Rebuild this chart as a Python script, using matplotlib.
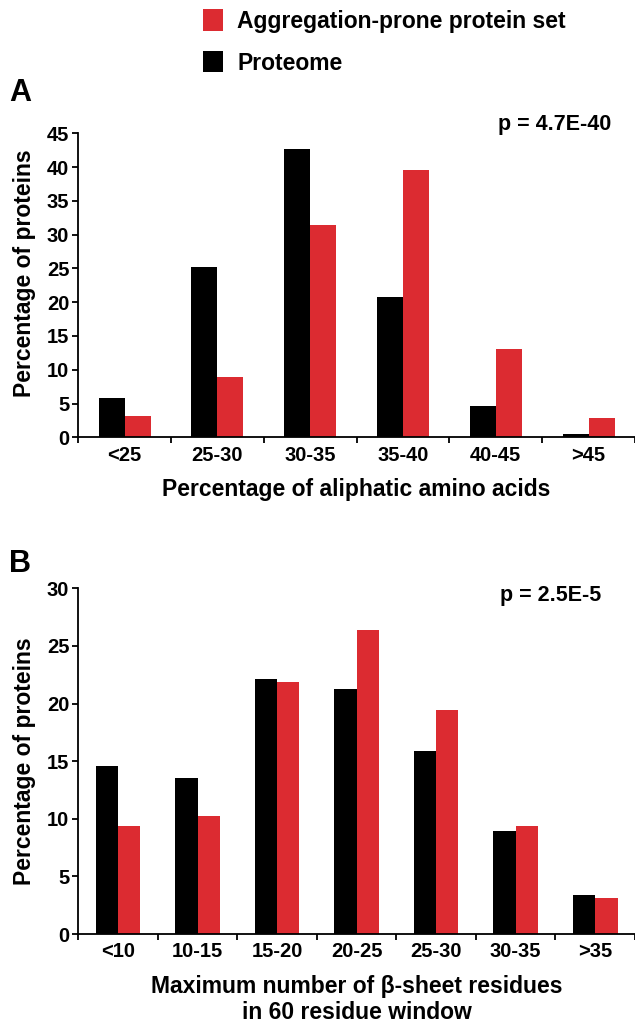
import numpy as np
import matplotlib
matplotlib.use("Agg")
import matplotlib.pyplot as plt
from matplotlib.patches import Patch

plt.rcParams['font.family'] = ['Liberation Sans', 'DejaVu Sans']
plt.rcParams['font.weight'] = 'bold'
plt.rcParams['axes.labelweight'] = 'bold'

RED = '#dc2b31'

# panel A - aliphatic amino acid content
aliphatic_bins = ['<25', '25-30', '30-35', '35-40', '40-45', '>45']
aliphatic_proteome = [5.8, 25.2, 42.7, 20.7, 4.6, 0.5]
aliphatic_aggr = [3.2, 9.0, 31.5, 39.6, 13.1, 2.9]

# panel B - beta sheet residues
beta_bins = ['<10', '10-15', '15-20', '20-25', '25-30', '30-35', '>35']
beta_proteome = [14.6, 13.5, 22.1, 21.3, 15.9, 8.9, 3.4]
beta_aggr = [9.4, 10.2, 21.9, 26.4, 19.4, 9.4, 3.15]

W, H = 635, 1029


def draw_panel(ax, bins, proteome, aggr, ymax, xlabel):
    x = np.arange(len(bins))
    w = 0.28
    ax.bar(x - w / 2, proteome, w, color='black', linewidth=0)
    ax.bar(x + w / 2, aggr, w, color=RED, linewidth=0)
    ax.set_xlim(-0.5, len(bins) - 0.5)
    ax.set_ylim(0, ymax)
    ax.set_yticks(range(0, ymax + 1, 5))
    ax.set_xticks(x, bins)
    ax.set_xticks(np.arange(len(bins) + 1) - 0.5, minor=True)
    ax.tick_params(axis='x', which='major', length=0, pad=6, labelsize=14.5)
    ax.tick_params(axis='x', which='minor', length=4.5, width=1.3, direction='out')
    ax.tick_params(axis='y', length=4.5, width=1.3, pad=2, labelsize=14.5)
    for s in ['top', 'right']:
        ax.spines[s].set_visible(False)
    for s in ['left', 'bottom']:
        ax.spines[s].set_linewidth(1.3)
    ax.set_ylabel('Percentage of proteins', fontsize=16.5)
    ax.set_xlabel(xlabel, fontsize=16.5, linespacing=1.15)


fig = plt.figure(figsize=(W / 100, H / 100), dpi=100)

left = 78.3 / W
axA = fig.add_axes([left, 1 - 437.3 / H, 1 - left, (437.3 - 133.3) / H])
axB = fig.add_axes([left, 1 - 934 / H, 1 - left, (934 - 588.3) / H])

draw_panel(axA, aliphatic_bins, aliphatic_proteome, aliphatic_aggr, 45,
           'Percentage of aliphatic amino acids')
draw_panel(axB, beta_bins, beta_proteome, beta_aggr, 30,
           'Maximum number of \u03b2-sheet residues\nin 60 residue window')

axA.yaxis.set_label_coords((36 - 78.3) / (W - 78.3), 0.54)
axB.yaxis.set_label_coords((36 - 78.3) / (W - 78.3), 0.5)
axA.xaxis.set_label_coords(0.5, (437.3 - 478) / 304)
axB.xaxis.set_label_coords(0.5, (934 - 975) / 345.7)

fig.text(9 / W, 1 - 101 / H, 'A', fontsize=22, fontweight='bold', va='baseline')
fig.text(9 / W, 1 - 572 / H, 'B', fontsize=22, fontweight='bold', va='baseline')
fig.text(611.7 / W, 1 - 130 / H, 'p = 4.7E-40', fontsize=15.5, fontweight='bold',
         ha='right', va='baseline')
fig.text(601 / W, 1 - 600.7 / H, 'p = 2.5E-5', fontsize=15.5, fontweight='bold',
         ha='right', va='baseline')

handles = [Patch(facecolor=RED, linewidth=0, label='Aggregation-prone protein set'),
           Patch(facecolor='black', linewidth=0, label='Proteome')]
fig.legend(handles=handles, loc='upper left', bbox_to_anchor=(202.7 / W, 1 - 9 / H),
           frameon=False, fontsize=16.5, handlelength=0.9, handleheight=1.07,
           handletextpad=0.6, labelspacing=0.8, borderpad=0, borderaxespad=0)

fig.savefig('out.png', dpi=100)
